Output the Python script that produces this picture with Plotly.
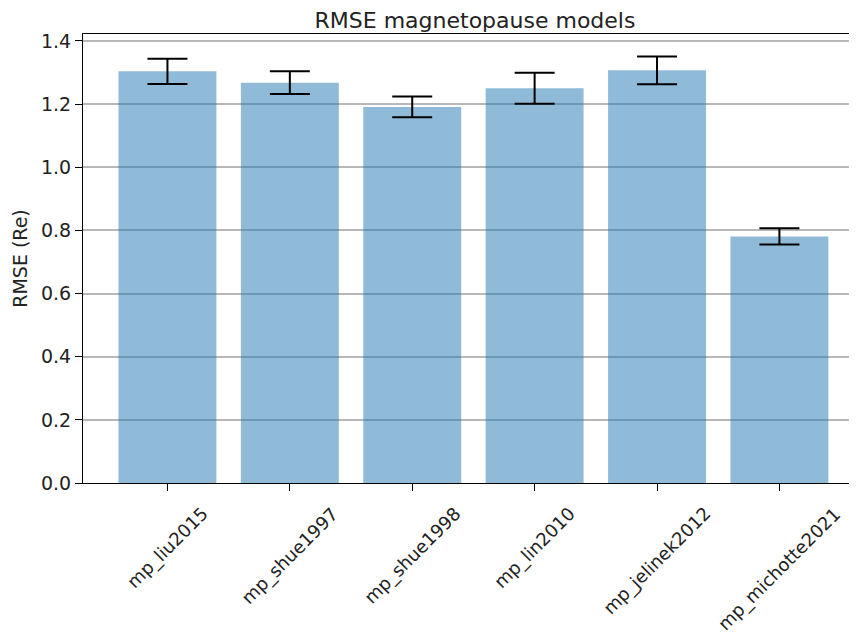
import plotly.graph_objects as go

models = ["mp_liu2015", "mp_shue1997", "mp_shue1998", "mp_lin2010", "mp_jelinek2012", "mp_michotte2021"]
rmse = [1.304, 1.268, 1.191, 1.250, 1.307, 0.781]
rmse_err = [0.040, 0.036, 0.033, 0.049, 0.044, 0.026]
y_ticks = [0.0, 0.2, 0.4, 0.6, 0.8, 1.0, 1.2, 1.4]

FONT = "DejaVu Sans"
TXT = "#222222"
OFF = 8  # default page body margin

fig = go.Figure()
fig.add_trace(go.Bar(
    x=models, y=rmse, width=0.8,
    marker=dict(color="rgba(31,119,180,0.5)", line=dict(width=0)),
    error_y=dict(type="data", array=rmse_err, visible=True,
                 color="black", thickness=2, width=20),
))

for m in models:
    fig.add_annotation(x=m, y=0, xref="x", yref="y", text=m, showarrow=False,
                       textangle=-45, xanchor="center", yanchor="top", yshift=-17,
                       font=dict(family=FONT, size=18, color=TXT))

W, H = 857 - OFF, 635 - OFF
fig.update_layout(
    width=W, height=H,
    margin=dict(l=83 - OFF, r=0, t=34 - OFF, b=152, autoexpand=False),
    paper_bgcolor="white", plot_bgcolor="white",
    showlegend=False,
    font=dict(family=FONT, size=19, color=TXT),
    title=dict(text="RMSE magnetopause models", xref="container", x=(475 - OFF) / W,
               xanchor="center", yref="container", y=1 - 5 / H, yanchor="top",
               pad=dict(t=0, b=0),
               font=dict(family=FONT, size=22, color=TXT)),
)
fig.update_xaxes(
    range=[-0.69, 5.634], showgrid=False, showline=True, linecolor="black",
    linewidth=1.2, mirror=True, ticks="outside", ticklen=7, tickcolor="black",
    tickwidth=1.2, showticklabels=False, zeroline=False, automargin=False,
)
fig.update_yaxes(
    range=[0, 1.422], tickvals=y_ticks, tickformat=".1f", showgrid=True,
    gridcolor="#b8b8b8", gridwidth=1.5, showline=True, linecolor="black",
    linewidth=1.2, ticks="outside", ticklen=7, tickcolor="black", tickwidth=1.2,
    zeroline=False, automargin=False,
    title=dict(text="RMSE (Re)", standoff=8,
               font=dict(family=FONT, size=19, color=TXT)),
    tickfont=dict(family=FONT, size=19, color=TXT),
)

fig.write_html("out.html")
